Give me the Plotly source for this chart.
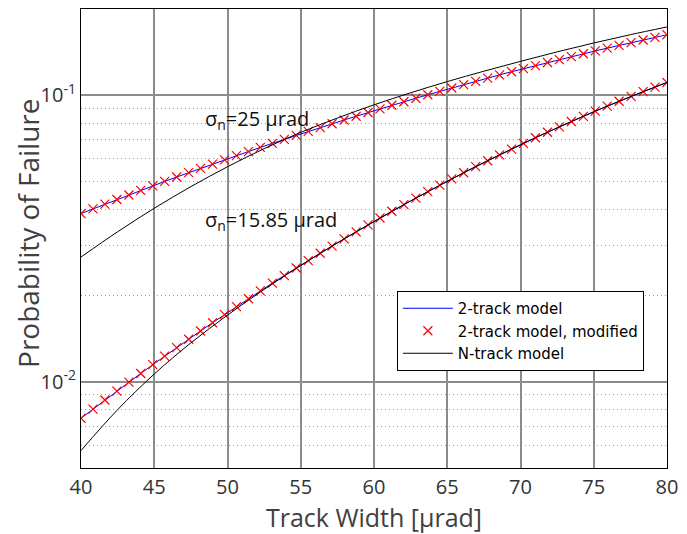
import math
import plotly.graph_objects as go

# ---- data ----
track_width = [40.00, 40.82, 41.63, 42.45, 43.27, 44.08, 44.90, 45.71, 46.53, 47.35,
               48.16, 48.98, 49.80, 50.61, 51.43, 52.24, 53.06, 53.88, 54.69, 55.51,
               56.33, 57.14, 57.96, 58.78, 59.59, 60.41, 61.22, 62.04, 62.86, 63.67,
               64.49, 65.31, 66.12, 66.94, 67.76, 68.57, 69.39, 70.20, 71.02, 71.84,
               72.65, 73.47, 74.29, 75.10, 75.92, 76.73, 77.55, 78.37, 79.18, 80.00]

two_track_s25 = [0.03864, 0.04013, 0.04166, 0.04325, 0.04487, 0.04655, 0.04826, 0.05003, 0.05183, 0.05367,
                 0.05557, 0.05751, 0.05950, 0.06153, 0.06360, 0.06577, 0.06793, 0.07016, 0.07243, 0.07475,
                 0.07711, 0.07953, 0.08198, 0.08447, 0.08702, 0.08961, 0.09226, 0.09490, 0.09763, 0.1004,
                 0.1032, 0.1060, 0.1089, 0.1118, 0.1148, 0.1178, 0.1208, 0.1238, 0.1269, 0.1301,
                 0.1332, 0.1364, 0.1396, 0.1428, 0.1460, 0.1493, 0.1526, 0.1559, 0.1592, 0.1626]

two_track_s1585 = [0.007459, 0.008026, 0.008636, 0.009279, 0.009968, 0.01069, 0.01147, 0.01229, 0.01315, 0.01407,
                   0.01504, 0.01607, 0.01715, 0.01829, 0.01949, 0.02076, 0.02209, 0.02348, 0.02494, 0.02647,
                   0.02808, 0.02976, 0.03152, 0.03336, 0.03528, 0.03728, 0.03936, 0.04151, 0.04376, 0.04609,
                   0.04853, 0.05104, 0.05363, 0.05633, 0.05909, 0.06193, 0.06488, 0.06795, 0.07107, 0.07429,
                   0.07759, 0.08096, 0.08442, 0.08799, 0.09161, 0.09530, 0.09908, 0.1029, 0.1068, 0.1108]

n_track_x = [40, 42.5, 45, 47.5, 50, 52.5, 55, 57.5, 60, 62.5, 65, 67.5, 70, 72.5, 75, 77.5, 80]
n_track_s25 = [0.02726, 0.03338, 0.04032, 0.04797, 0.05629, 0.06509, 0.07421, 0.08325, 0.09258,
               0.1020, 0.1116, 0.1213, 0.1313, 0.1417, 0.1522, 0.1627, 0.1731]
n_track_s1585 = [0.005754, 0.007990, 0.01064, 0.01367, 0.01708, 0.02100, 0.02547, 0.03052, 0.03627,
                 0.04277, 0.05008, 0.05823, 0.06719, 0.07694, 0.08755, 0.09883, 0.1108]

x_ticks = [40, 45, 50, 55, 60, 65, 70, 75, 80]
y_major = [0.01, 0.1]
y_major_text = ["10<sup>-2</sup>", "10<sup>-1</sup>"]
y_minor = [0.006, 0.007, 0.008, 0.009, 0.02, 0.03, 0.04, 0.05, 0.06, 0.07, 0.08, 0.09]

labels = [("σ<sub>n</sub>=25 μrad", 48.3, 0.0823),
          ("σ<sub>n</sub>=15.85 μrad", 48.3, 0.0366)]

# ---- figure ----
fig = go.Figure()

blue = "#0000ff"
red = "#ff0000"

fig.add_trace(go.Scatter(x=track_width, y=two_track_s25, mode="lines",
                         line=dict(color=blue, width=1), name="2-track model"))
fig.add_trace(go.Scatter(x=track_width, y=two_track_s1585, mode="lines",
                         line=dict(color=blue, width=1), showlegend=False))
fig.add_trace(go.Scatter(x=track_width, y=two_track_s25, mode="markers",
                         marker=dict(symbol="x-thin", size=9, line=dict(color=red, width=1.2)),
                         name="2-track model, modified"))
fig.add_trace(go.Scatter(x=track_width, y=two_track_s1585, mode="markers",
                         marker=dict(symbol="x-thin", size=9, line=dict(color=red, width=1.2)),
                         showlegend=False))
fig.add_trace(go.Scatter(x=n_track_x, y=n_track_s25, mode="lines", line_shape="spline",
                         line=dict(color="black", width=1), name="N-track model"))
fig.add_trace(go.Scatter(x=n_track_x, y=n_track_s1585, mode="lines", line_shape="spline",
                         line=dict(color="black", width=1), showlegend=False))

for txt, xx, yy in labels:
    fig.add_annotation(x=xx, y=math.log10(yy), yref="y", xref="x", text=txt, showarrow=False,
                       xanchor="left", yanchor="middle",
                       font=dict(family="Open Sans", size=20, color="#111111"))

# y-axis title as a rotated annotation (placed like the reference)
fig.add_annotation(text="Probability of Failure", xref="paper", yref="paper",
                   x=-0.0905, y=0.512, xanchor="center", yanchor="middle",
                   textangle=-90, showarrow=False,
                   font=dict(family="Open Sans", size=28, color="#404040"))

tick_font = dict(family="Open Sans", size=20, color="#333333")

fig.update_layout(
    width=687, height=534,
    margin=dict(l=81, r=20, t=9, b=66, autoexpand=False),
    paper_bgcolor="white", plot_bgcolor="white",
    showlegend=True,
    legend=dict(x=0.539, y=0.3856, xanchor="left", yanchor="top",
                bgcolor="white", bordercolor="black", borderwidth=1,
                font=dict(family="DejaVu Sans", size=15, color="black"),
                itemwidth=50, tracegroupgap=0),
    xaxis=dict(range=[40, 80], tickvals=x_ticks, tickfont=tick_font,
               ticklabelstandoff=1, automargin=False,
               title=dict(text="Track Width [μrad]",
                          font=dict(family="Open Sans", size=25, color="#404040"), standoff=10),
               showgrid=True, gridcolor="#8c8c8c", gridwidth=2,
               showline=True, linecolor="black", linewidth=1, mirror=True,
               ticks="", zeroline=False),
    yaxis=dict(type="log", range=[-2.301, -0.699], tickvals=y_major, ticktext=y_major_text,
               tickfont=tick_font, automargin=False,
               showgrid=True, gridcolor="#8c8c8c", gridwidth=2,
               showline=True, linecolor="black", linewidth=1, mirror=True,
               ticks="", zeroline=False,
               minor=dict(tickvals=y_minor, showgrid=True, gridcolor="#9a9a9a",
                          griddash="1px,3px", gridwidth=1, ticks="")),
)

fig.write_html("out.html")
